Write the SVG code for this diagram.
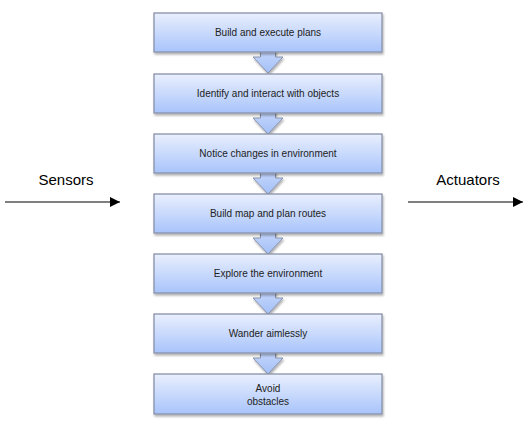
<svg xmlns="http://www.w3.org/2000/svg" width="530" height="430" viewBox="0 0 530 430">
<defs>
<linearGradient id="g" x1="0" y1="0" x2="0" y2="1">
<stop offset="0" stop-color="#e9effd"/>
<stop offset="1" stop-color="#a8c4fb"/>
</linearGradient>
<linearGradient id="ga" x1="0" y1="0" x2="0" y2="1">
<stop offset="0" stop-color="#c9d9fb"/>
<stop offset="1" stop-color="#a3c0f8"/>
</linearGradient>
<filter id="sh" x="-10%" y="-20%" width="120%" height="150%">
<feDropShadow dx="1" dy="2" stdDeviation="1.2" flood-color="#000" flood-opacity="0.3"/>
</filter>
<marker id="ah" viewBox="0 0 10 10" refX="10" refY="5" markerWidth="10" markerHeight="10" markerUnits="userSpaceOnUse" orient="auto">
<path d="M0,0 L10,5 L0,10 Z" fill="#000"/>
</marker>
</defs>
<style>
.box{fill:url(#g);stroke:#8891aa;stroke-width:1.3;filter:url(#sh)}
.arr{fill:url(#ga);stroke:#8891aa;stroke-width:1;filter:url(#sh)}
.t{font-family:"Liberation Sans",Arial,sans-serif;font-size:10px;fill:#222;text-anchor:middle}
.lbl{font-family:"Liberation Sans",Arial,sans-serif;font-size:15px;fill:#000;text-anchor:middle}
.ln{stroke:#555;stroke-width:1.3;fill:none;marker-end:url(#ah)}
</style>
<g id="connectors">
<path class="arr" d="M260.5,48 H275.5 V57 H283 L268,73 L253,57 H260.5 Z"/>
<path class="arr" d="M260.5,109 H275.5 V118 H283 L268,134 L253,118 H260.5 Z"/>
<path class="arr" d="M260.5,169 H275.5 V178 H283 L268,194 L253,178 H260.5 Z"/>
<path class="arr" d="M260.5,229 H275.5 V238 H283 L268,254 L253,238 H260.5 Z"/>
<path class="arr" d="M260.5,289 H275.5 V298 H283 L268,314 L253,298 H260.5 Z"/>
<path class="arr" d="M260.5,349 H275.5 V358 H283 L268,374 L253,358 H260.5 Z"/>
<line class="ln" x1="5" y1="202" x2="120" y2="202"/>
<line class="ln" x1="408" y1="202" x2="523" y2="202"/>
</g>
<g id="n1"><rect class="box" x="154" y="13" width="228" height="39"/><text class="t" x="268" y="36">Build and execute plans</text></g>
<g id="n2"><rect class="box" x="154" y="74" width="228" height="39"/><text class="t" x="268" y="97">Identify and interact with objects</text></g>
<g id="n3"><rect class="box" x="154" y="134" width="228" height="39"/><text class="t" x="268" y="157">Notice changes in environment</text></g>
<g id="n4"><rect class="box" x="154" y="194" width="228" height="39"/><text class="t" x="268" y="217">Build map and plan routes</text></g>
<g id="n5"><rect class="box" x="154" y="254" width="228" height="39"/><text class="t" x="268" y="277">Explore the environment</text></g>
<g id="n6"><rect class="box" x="154" y="314" width="228" height="39"/><text class="t" x="268" y="337">Wander aimlessly</text></g>
<g id="n7"><rect class="box" x="154" y="374" width="228" height="40"/><text class="t" x="268" y="392">Avoid</text><text class="t" x="268" y="405">obstacles</text></g>
<g id="sensors"><text class="lbl" x="66" y="185">Sensors</text></g>
<g id="actuators"><text class="lbl" x="468" y="185">Actuators</text></g>
</svg>
